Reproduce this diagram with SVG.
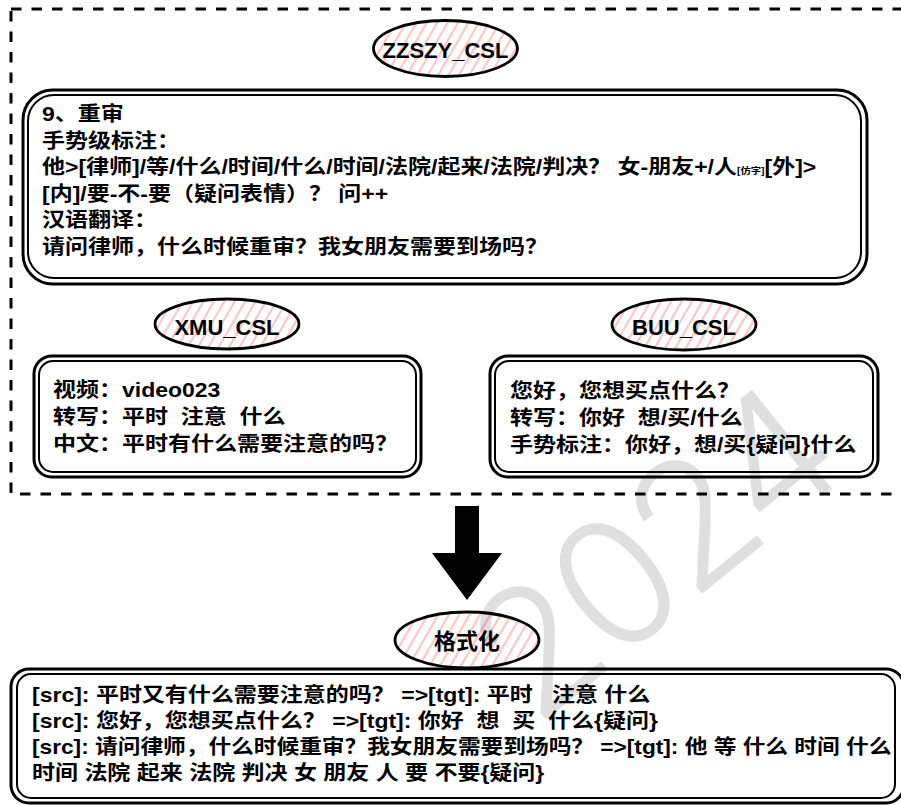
<svg xmlns="http://www.w3.org/2000/svg" width="901" height="805" viewBox="0 0 901 805">
<defs>
<pattern id="hatch" patternUnits="userSpaceOnUse" width="9" height="9" patternTransform="rotate(30)">
<rect width="9" height="9" fill="#fff"/>
<line x1="3" y1="-1" x2="3" y2="10" stroke="#ffc4c4" stroke-width="2.2"/>
</pattern>
<style>
.t{font-family:"Liberation Sans","Noto Sans CJK SC",sans-serif;font-weight:bold;font-size:20px;fill:#000;white-space:pre}
.lbl{font-family:"Liberation Sans","Noto Sans CJK SC",sans-serif;font-weight:bold;font-size:22px;fill:#000;text-anchor:middle}
.ell{fill:url(#hatch);stroke:#000;stroke-width:2.8}
.ob{fill:#fff;stroke:#000;stroke-width:3}
.ib{fill:none;stroke:#000;stroke-width:2}
.dash{fill:none;stroke:#000;stroke-width:3;stroke-dasharray:10.5 10}
.wm{font-family:Inter,"Open Sans",sans-serif;font-weight:300;font-size:175px;fill:#000;text-anchor:middle}
</style>
</defs>
<rect width="901" height="805" fill="#fff"/>

<g id="group-frame">
<rect class="dash" x="11" y="9" width="905" height="485"/>
</g>

<g id="node-zzszy-label">
<ellipse class="ell" cx="445.5" cy="48.5" rx="72" ry="28"/>
<text class="lbl" x="445.5" y="57.5">ZZSZY_CSL</text>
</g>

<g id="node-zzszy-box">
<rect class="ob" x="23" y="90" width="844" height="194" rx="30"/>
<rect class="ib" x="28" y="95" width="833" height="183" rx="26"/>
<text class="t" transform="translate(42,121) scale(1.15,1)">9、重审</text>
<text class="t" transform="translate(42,147.5) scale(1.15,1)">手势级标注：</text>
<text class="t" transform="translate(42,174) scale(1.15,1)">他&gt;[律师]/等/什么/时间/什么/时间/法院/起来/法院/判决？ 女-朋友+/人<tspan style="font-size:9px">[仿字]</tspan>[外]&gt;</text>
<text class="t" transform="translate(42,200.5) scale(1.15,1)">[内]/要-不-要（疑问表情）？ 问++</text>
<text class="t" transform="translate(42,227) scale(1.15,1)">汉语翻译：</text>
<text class="t" transform="translate(42,253.5) scale(1.15,1)">请问律师，什么时候重审？我女朋友需要到场吗？</text>
</g>

<g id="node-xmu-label">
<ellipse class="ell" cx="227" cy="324" rx="72" ry="25"/>
<text class="lbl" x="227" y="335">XMU_CSL</text>
</g>

<g id="node-xmu-box">
<rect class="ob" x="34" y="356" width="387" height="121" rx="18"/>
<rect class="ib" x="39" y="361" width="377" height="111" rx="14"/>
<text class="t" transform="translate(53,397) scale(1.15,1)">视频：video023</text>
<text class="t" transform="translate(53,424) scale(1.15,1)">转写：平时  注意  什么</text>
<text class="t" transform="translate(53,451) scale(1.15,1)">中文：平时有什么需要注意的吗？</text>
</g>

<g id="node-buu-label">
<ellipse class="ell" cx="684" cy="324.5" rx="72" ry="25.5"/>
<text class="lbl" x="684" y="335">BUU_CSL</text>
</g>

<g id="node-buu-box">
<rect class="ob" x="490" y="356" width="388" height="121" rx="18"/>
<rect class="ib" x="495" y="361" width="378" height="111" rx="14"/>
<text class="t" transform="translate(510,398) scale(1.15,1)">您好，您想买点什么？</text>
<text class="t" transform="translate(510,425) scale(1.15,1)">转写：你好  想/买/什么</text>
<text class="t" transform="translate(510,452) scale(1.15,1)">手势标注：你好，想/买{疑问}什么</text>
</g>

<g id="connectors">
<polygon points="455,506 479,506 479,553 502,553 467,600 432,553 455,553" fill="#000"/>
</g>

<g id="node-format-label">
<ellipse class="ell" cx="467" cy="640" rx="72" ry="28"/>
<text class="lbl" x="467" y="649">格式化</text>
</g>

<g id="node-output-box">
<rect class="ob" x="11" y="669" width="893" height="134" rx="18"/>
<rect class="ib" x="17" y="674" width="878" height="124" rx="14"/>
<text class="t" transform="translate(32,702) scale(1.15,1)">[src]: 平时又有什么需要注意的吗？ =&gt;[tgt]: 平时   注意 什么</text>
<text class="t" transform="translate(32,728) scale(1.15,1)">[src]: 您好，您想买点什么？ =&gt;[tgt]: 你好  想  买  什么{疑问}</text>
<text class="t" transform="translate(32,754) scale(1.135,1)">[src]: 请问律师，什么时候重审？我女朋友需要到场吗？ =&gt;[tgt]: 他 等 什么 时间 什么</text>
<text class="t" transform="translate(32,780) scale(1.15,1)">时间 法院 起来 法院 判决 女 朋友 人 要 不要{疑问}</text>
</g>

<g id="watermark" opacity="0.12">
<text class="wm" x="0" y="63" transform="translate(537,646) rotate(-39)">2</text>
<text class="wm" x="0" y="63" transform="translate(615,583) rotate(-39)">0</text>
<text class="wm" x="0" y="63" transform="translate(693,520) rotate(-39)">2</text>
<text class="wm" x="0" y="63" transform="translate(771,457) rotate(-39)">4</text>
</g>
</svg>
